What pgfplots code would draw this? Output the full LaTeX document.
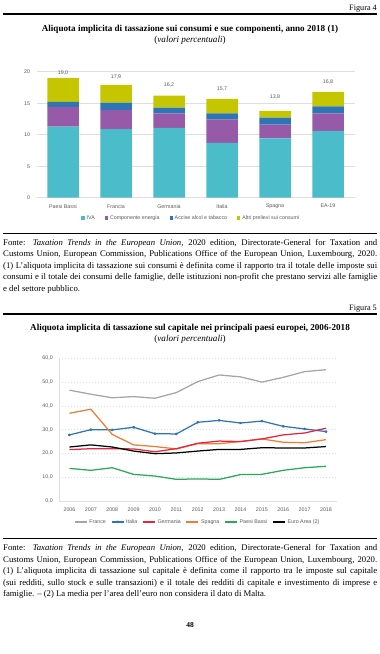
\documentclass[border=0pt]{standalone}
\usepackage{fontspec}
\setmainfont{Liberation Serif}
\newfontfamily\chartfont{Liberation Sans}
\usepackage{pgfplots}
\pgfplotsset{compat=1.18}
\usepackage{pgfplotstable}
\definecolor{cIVA}{RGB}{75,188,202}
\definecolor{cEn}{RGB}{150,90,168}
\definecolor{cAlc}{RGB}{46,117,182}
\definecolor{cAlt}{RGB}{198,198,0}
\definecolor{cText}{RGB}{89,89,89}
\definecolor{cGrid}{RGB}{222,222,222}
\definecolor{cFR}{RGB}{165,165,165}
\definecolor{cIT}{RGB}{46,117,182}
\definecolor{cDE}{RGB}{228,38,62}
\definecolor{cES}{RGB}{237,125,49}
\definecolor{cNL}{RGB}{40,168,88}
\definecolor{cEA}{RGB}{0,0,0}
\newcommand\bodyfont{\fontsize{8.7}{10}\selectfont}
\newcommand\titlefont{\fontsize{9.1}{10}\selectfont\bfseries}
\newcommand\subfont{\fontsize{9.1}{10}\selectfont}
\newcommand\cfont{\chartfont\fontsize{5.3}{6}\selectfont}
\pgfplotstableread{
x iva en alc alt lab
0 11.3 3.1 0.8 3.8 19,0
1 10.9 3.0 1.2 2.8 17,9
2 11.1 2.3 0.9 1.9 16,2
3 8.7 3.7 1.0 2.3 15,7
4 9.4 2.2 1.1 1.1 13,8
5 10.6 2.8 1.1 2.3 16,8
}\barsdata
\pgfplotstableread{
year FR IT DE ES NL EA
2006 46.6 27.8 21.6 36.9 13.7 22.7
2007 44.9 30.0 22.0 38.6 12.9 23.6
2008 43.4 29.9 22.0 28.0 14.0 22.7
2009 43.9 31.0 21.9 23.6 11.2 21.0
2010 43.2 28.3 20.7 22.9 10.5 19.9
2011 45.6 28.2 22.0 21.9 9.1 20.2
2012 50.2 33.1 24.3 24.1 9.3 21.0
2013 53.0 33.9 25.2 24.1 9.1 21.7
2014 52.2 32.8 25.0 25.0 11.1 21.7
2015 50.0 33.6 26.1 26.1 11.2 22.4
2016 52.0 31.4 27.8 24.7 12.9 22.3
2017 54.4 30.3 28.6 24.5 14.0 22.3
2018 55.2 29.2 30.6 25.8 14.6 22.9
}\linedata
\pgfplotsset{sqleg/.style={legend image code/.code={\fill[##1] (0pt,-1.6pt) rectangle (3.2pt,1.6pt);}}}
\begin{document}
\begin{tikzpicture}
\path[use as bounding box] (0,0) rectangle (380pt,-654pt);
% ---------- header figure 4
\node[anchor=base east, inner sep=0] at (377pt,-10.5pt) {\fontsize{8.2}{9.6}\selectfont Figura 4};
\draw[line width=1.6pt] (3pt,-13.8pt) -- (377pt,-13.8pt);
\node[anchor=base, inner sep=0] at (190pt,-31.5pt) {\titlefont Aliquota implicita di tassazione sui consumi e sue componenti, anno 2018 (1)};
\node[anchor=base, inner sep=0] at (190pt,-42.8pt) {\subfont (\textit{valori percentuali})};
% ---------- chart 1
\begin{axis}[
  at={(36.5pt,-197.7pt)}, anchor=south west, scale only axis,
  width=318pt, height=126pt,
  ybar stacked, bar width=31.5pt,
  xmin=-0.5, xmax=5.5, ymin=0, ymax=20,
  xtick={0,...,5}, xticklabels={Paesi Bassi,Francia,Germania,Italia,Spagna,EA-19},
  ytick={0,5,...,20},
  ymajorgrids, grid style={draw=cGrid, line width=0.5pt},
  axis line style={draw=none},
  major tick length=0pt,
  /pgf/number format/assume math mode=true,
  tick label style={font=\cfont, text=cText},
  yticklabel style={xshift=-3pt},
  xticklabel style={yshift=-3pt},
  legend style={at={(0.487,-0.161)}, anchor=center, draw=none, fill=none,
    legend columns=-1, font=\cfont, text=cText, inner sep=0pt,
    /tikz/every even column/.append style={column sep=8pt}},
  every node near coord/.append style={font=\cfont, text=cText, yshift=17pt},
]
\addplot[fill=cIVA, draw=none, sqleg] table[x=x,y=iva]{\barsdata};
\addplot[fill=cEn, draw=none, sqleg] table[x=x,y=en]{\barsdata};
\addplot[fill=cAlc, draw=none, sqleg] table[x=x,y=alc]{\barsdata};
\addplot[fill=cAlt, draw=none, sqleg, nodes near coords, point meta=explicit symbolic] table[x=x,y=alt,meta=lab]{\barsdata};
\legend{IVA,Componente energia,Accise alcol e tabacco,Altri prelievi sui consumi}
\end{axis}
% ---------- notes 1
\draw[line width=1.6pt] (3pt,-233.5pt) -- (377pt,-233.5pt);
\node[anchor=base west, inner sep=0] at (3pt,-245pt) {\bodyfont\makebox[374pt][s]{Fonte: \textit{Taxation Trends in the European Union}, 2020 edition, Directorate-General for Taxation and}};
\node[anchor=base west, inner sep=0] at (3pt,-256.5pt) {\bodyfont\makebox[374pt][s]{Customs Union, European Commission, Publications Office of the European Union, Luxembourg, 2020.}};
\node[anchor=base west, inner sep=0] at (3pt,-268pt) {\bodyfont\makebox[374pt][s]{(1) L'aliquota implicita di tassazione sui consumi è definita come il rapporto tra il totale delle imposte sui}};
\node[anchor=base west, inner sep=0] at (3pt,-279.5pt) {\bodyfont\makebox[374pt][s]{consumi e il totale dei consumi delle famiglie, delle istituzioni non-profit che prestano servizi alle famiglie}};
\node[anchor=base west, inner sep=0] at (3pt,-291pt) {\bodyfont e del settore pubblico.};
% ---------- header figure 5
\node[anchor=base east, inner sep=0] at (377pt,-310pt) {\fontsize{8.2}{9.6}\selectfont Figura 5};
\draw[line width=1.6pt] (3pt,-313.8pt) -- (377pt,-313.8pt);
\node[anchor=base, inner sep=0] at (190pt,-330pt) {\titlefont Aliquota implicita di tassazione sul capitale nei principali paesi europei, 2006-2018};
\node[anchor=base, inner sep=0] at (190pt,-341pt) {\subfont (\textit{valori percentuali})};
% ---------- chart 2
\begin{axis}[
  at={(58.8pt,-501pt)}, anchor=south west, scale only axis,
  width=277.9pt, height=142.7pt,
  xmin=2005.5, xmax=2018.5, ymin=0, ymax=60,
  xtick={2006,...,2018}, ytick={0,10,...,60},
  ymajorgrids, grid style={draw=cGrid, line width=0.5pt, dash pattern=on 1.5pt off 1.5pt},
  axis lines=left, axis line style={-, draw=cGrid, line width=0.6pt},
  major tick length=0pt,
  /pgf/number format/assume math mode=true,
  tick label style={font=\cfont, text=cText},
  x tick label style={/pgf/number format/1000 sep={}, yshift=-3pt},
  y tick label style={/pgf/number format/.cd, fixed, fixed zerofill, precision=1, use comma, /tikz/.cd, xshift=-2.5pt},
  legend style={at={(0.5,-0.147)}, anchor=center, draw=none, fill=none,
    legend columns=-1, font=\cfont, text=cText, inner sep=0pt,
    /tikz/every even column/.append style={column sep=3pt}},
  legend image code/.code={\draw[mark repeat=2,mark phase=2,#1] plot coordinates {(0pt,0pt) (6pt,0pt) (12pt,0pt)};},
  every axis plot/.append style={line width=1.25pt, line join=round},
]
\addplot[cFR, no markers] table[x=year,y=FR]{\linedata};
\addplot[cIT, mark=*, mark size=0.8pt] table[x=year,y=IT]{\linedata};
\addplot[cES, no markers, forget plot] table[x=year,y=ES]{\linedata};
\addplot[cDE, no markers] table[x=year,y=DE]{\linedata};
\addlegendimage{cES, no markers, line width=1.25pt}
\addplot[cNL, no markers] table[x=year,y=NL]{\linedata};
\addplot[cEA, no markers] table[x=year,y=EA]{\linedata};
\legend{France,Italia,Germania,Spagna,Paesi Bassi,Euro Area (2)}
\end{axis}
% ---------- notes 2
\draw[line width=1.6pt] (3pt,-538.5pt) -- (377pt,-538.5pt);
\node[anchor=base west, inner sep=0] at (3pt,-550.5pt) {\bodyfont\makebox[374pt][s]{Fonte: \textit{Taxation Trends in the European Union}, 2020 edition, Directorate-General for Taxation and}};
\node[anchor=base west, inner sep=0] at (3pt,-562pt) {\bodyfont\makebox[374pt][s]{Customs Union, European Commission, Publications Office of the European Union, Luxembourg, 2020.}};
\node[anchor=base west, inner sep=0] at (3pt,-573.5pt) {\bodyfont\makebox[374pt][s]{(1) L'aliquota implicita di tassazione sul capitale è definita come il rapporto tra le imposte sul capitale}};
\node[anchor=base west, inner sep=0] at (3pt,-585pt) {\bodyfont\makebox[374pt][s]{(sui redditi, sullo stock e sulle transazioni) e il totale dei redditi di capitale e investimento di imprese e}};
\node[anchor=base west, inner sep=0] at (3pt,-596.5pt) {\bodyfont famiglie. -- (2) La media per l'area dell'euro non considera il dato di Malta.};
\node[anchor=base, inner sep=0] at (190pt,-627pt) {\fontsize{7.5}{9}\selectfont\bfseries 48};
\end{tikzpicture}
\end{document}
